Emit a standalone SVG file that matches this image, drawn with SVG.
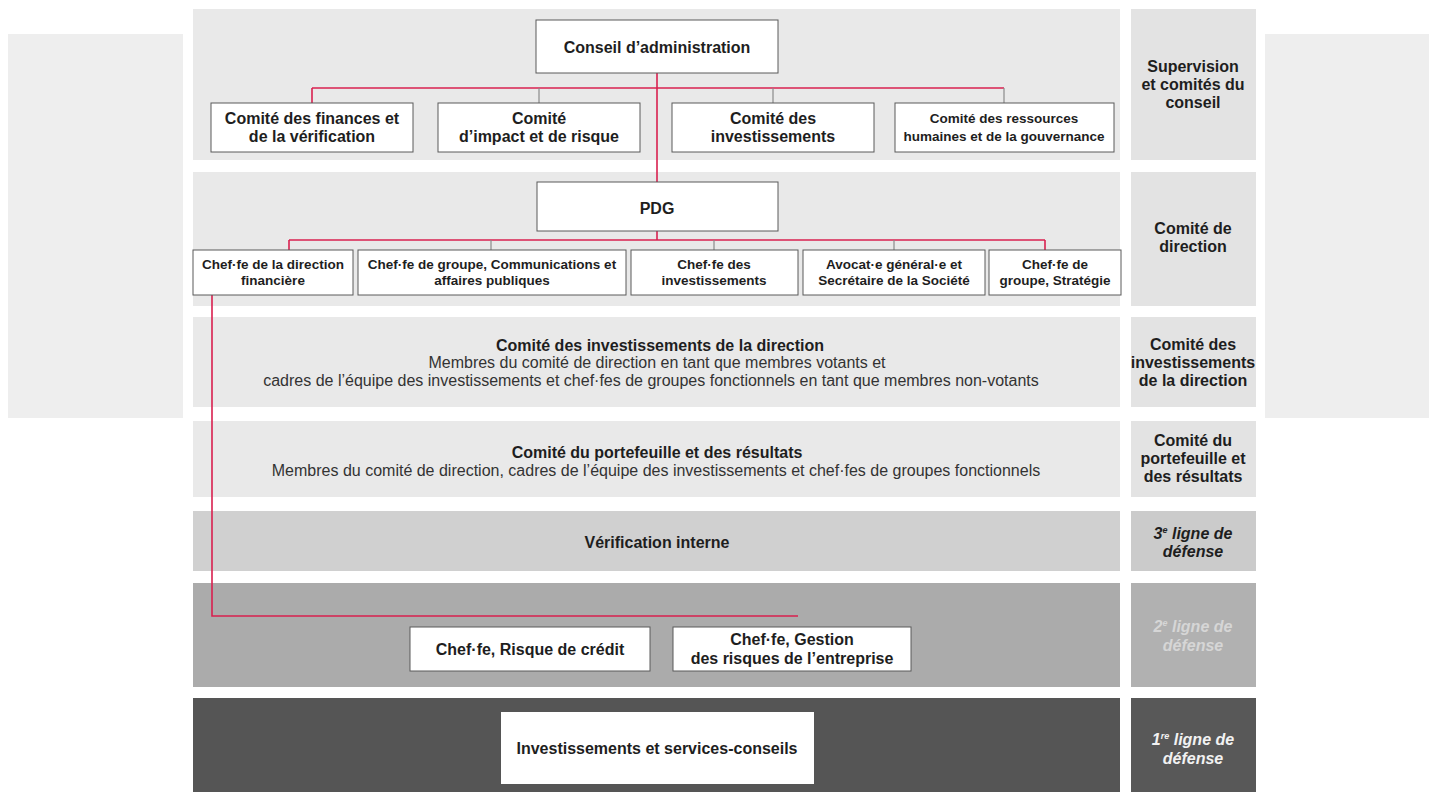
<svg xmlns="http://www.w3.org/2000/svg" width="1429" height="792" viewBox="0 0 1429 792">
<style>
text{font-family:"Liberation Sans",Arial,sans-serif;text-anchor:middle;fill:#1e1e1e}
.b{font-weight:bold}
.box{fill:#fff;stroke:#5a5a5a;stroke-width:1}
.light{fill:#e9e9e9}
.lab{fill:#e3e3e3}
.red{stroke:#d9204f;stroke-width:1.6;fill:none}
.tick{stroke:#8a8a8a;stroke-width:1.2;fill:none}
.f16{font-size:16px}
.f14{font-size:13.5px}
.reg{font-weight:normal;fill:#333}
.it{font-style:italic}
</style>
<rect x="0" y="0" width="1429" height="792" fill="#fff"/>
<rect x="8" y="34" width="1421" height="384" fill="#eeeeee"/>
<rect x="183" y="0" width="1082" height="792" fill="#fff"/>

<g id="bands">
<rect class="light" x="193" y="9" width="927" height="151"/>
<rect class="lab" x="1131" y="9" width="125" height="151"/>
<rect class="light" x="193" y="172" width="927" height="134"/>
<rect class="lab" x="1131" y="172" width="125" height="134"/>
<rect class="light" x="193" y="317" width="927" height="90"/>
<rect class="lab" x="1131" y="317" width="125" height="90"/>
<rect class="light" x="193" y="421" width="927" height="76"/>
<rect class="lab" x="1131" y="421" width="125" height="76"/>
<rect fill="#d0d0d0" x="193" y="511" width="927" height="60"/>
<rect fill="#cbcbcb" x="1131" y="511" width="125" height="60"/>
<rect fill="#ababab" x="193" y="583" width="927" height="104"/>
<rect fill="#b1b1b1" x="1131" y="583" width="125" height="104"/>
<rect fill="#555555" x="193" y="698" width="927" height="94"/>
<rect fill="#585858" x="1131" y="698" width="125" height="94"/>
</g>

<g id="connectors">
<polyline class="red" points="657,73 657,88"/>
<polyline class="red" points="312,88 1004,88"/>
<polyline class="red" points="312,88 312,103"/>
<polyline class="tick" points="539,88 539,103"/>
<polyline class="tick" points="773,88 773,103"/>
<polyline class="tick" points="1004,88 1004,103"/>
<polyline class="red" points="657,88 657,182"/>
<polyline class="red" points="657,231 657,240"/>
<polyline class="red" points="289,240 1045,240"/>
<polyline class="red" points="289,240 289,250"/>
<polyline class="tick" points="491,240 491,250"/>
<polyline class="tick" points="714,240 714,250"/>
<polyline class="tick" points="894,240 894,250"/>
<polyline class="red" points="1045,240 1045,250"/>
<polyline class="red" points="212,295 212,616 798,616"/>
</g>

<g id="conseil"><rect class="box" x="536" y="20" width="242" height="53"/><text class="b f16" x="657" y="53">Conseil d’administration</text></g>
<g id="comite-finances"><rect class="box" x="211" y="103" width="202" height="49"/><text class="b f16" x="312" y="124">Comité des finances et</text><text class="b f16" x="312" y="142">de la vérification</text></g>
<g id="comite-impact"><rect class="box" x="438" y="103" width="202" height="49"/><text class="b f16" x="539" y="124">Comité</text><text class="b f16" x="539" y="142">d’impact et de risque</text></g>
<g id="comite-investissements"><rect class="box" x="672" y="103" width="202" height="49"/><text class="b f16" x="773" y="124">Comité des</text><text class="b f16" x="773" y="142">investissements</text></g>
<g id="comite-rh"><rect class="box" x="895" y="103" width="219" height="49"/><text class="b" font-size="13.5" x="1004" y="123">Comité des ressources</text><text class="b" font-size="13.5" x="1004" y="141">humaines et de la gouvernance</text></g>

<g id="pdg"><rect class="box" x="537" y="182" width="241" height="49"/><text class="b f16" x="657" y="214">PDG</text></g>
<g id="cfo"><rect class="box" x="193" y="250" width="160" height="45"/><text class="b f14" x="273" y="269">Chef·fe de la direction</text><text class="b f14" x="273" y="285">financière</text></g>
<g id="communications"><rect class="box" x="358" y="250" width="268" height="45"/><text class="b f14" x="492" y="269">Chef·fe de groupe, Communications et</text><text class="b f14" x="492" y="285">affaires publiques</text></g>
<g id="cio"><rect class="box" x="631" y="250" width="167" height="45"/><text class="b f14" x="714" y="269">Chef·fe des</text><text class="b f14" x="714" y="285">investissements</text></g>
<g id="avocat"><rect class="box" x="803" y="250" width="182" height="45"/><text class="b f14" x="894" y="269">Avocat·e général·e et</text><text class="b f14" x="894" y="285">Secrétaire de la Société</text></g>
<g id="strategie"><rect class="box" x="989" y="250" width="132" height="45"/><text class="b f14" x="1055" y="269">Chef·fe de</text><text class="b f14" x="1055" y="285">groupe, Stratégie</text></g>

<g id="cid">
<text class="b f16" x="660" y="351">Comité des investissements de la direction</text>
<text class="reg f16" x="657" y="368">Membres du comité de direction en tant que membres votants et</text>
<text class="reg f16" x="651" y="386">cadres de l’équipe des investissements et chef·fes de groupes fonctionnels en tant que membres non-votants</text>
</g>
<g id="cpr">
<text class="b f16" x="657" y="458">Comité du portefeuille et des résultats</text>
<text class="reg f16" x="656" y="476">Membres du comité de direction, cadres de l’équipe des investissements et chef·fes de groupes fonctionnels</text>
</g>
<g id="verif"><text class="b f16" x="657" y="548">Vérification interne</text></g>

<g id="risque-credit"><rect class="box" x="410" y="627" width="240" height="44"/><text class="b f16" x="530" y="655">Chef·fe, Risque de crédit</text></g>
<g id="gestion-risques"><rect class="box" x="673" y="627" width="238" height="44"/><text class="b f16" x="792" y="645">Chef·fe, Gestion</text><text class="b f16" x="792" y="664">des risques de l’entreprise</text></g>
<g id="investissements-services"><rect fill="#fff" x="501" y="712" width="313" height="72"/><text class="b f16" x="657" y="754">Investissements et services-conseils</text></g>

<g id="labels">
<text class="b f16" x="1193" y="72">Supervision</text>
<text class="b f16" x="1193" y="90">et comités du</text>
<text class="b f16" x="1193" y="108">conseil</text>
<text class="b f16" x="1193" y="234">Comité de</text>
<text class="b f16" x="1193" y="252">direction</text>
<text class="b f16" x="1193" y="350">Comité des</text>
<text class="b f16" x="1193" y="368">investissements</text>
<text class="b f16" x="1193" y="386">de la direction</text>
<text class="b f16" x="1193" y="446">Comité du</text>
<text class="b f16" x="1193" y="464">portefeuille et</text>
<text class="b f16" x="1193" y="482">des résultats</text>
<text class="b f16 it" x="1193" y="539">3<tspan font-size="9" dy="-6">e</tspan><tspan dy="6"> ligne de</tspan></text>
<text class="b f16 it" x="1193" y="557">défense</text>
<text class="b f16 it" x="1193" y="632" style="fill:#d6d6d6">2<tspan font-size="9" dy="-6">e</tspan><tspan dy="6"> ligne de</tspan></text>
<text class="b f16 it" x="1193" y="651" style="fill:#d6d6d6">défense</text>
<text class="b f16 it" x="1193" y="745" style="fill:#f2f2f2">1<tspan font-size="9" dy="-6">re</tspan><tspan dy="6"> ligne de</tspan></text>
<text class="b f16 it" x="1193" y="764" style="fill:#f2f2f2">défense</text>
</g>
</svg>
